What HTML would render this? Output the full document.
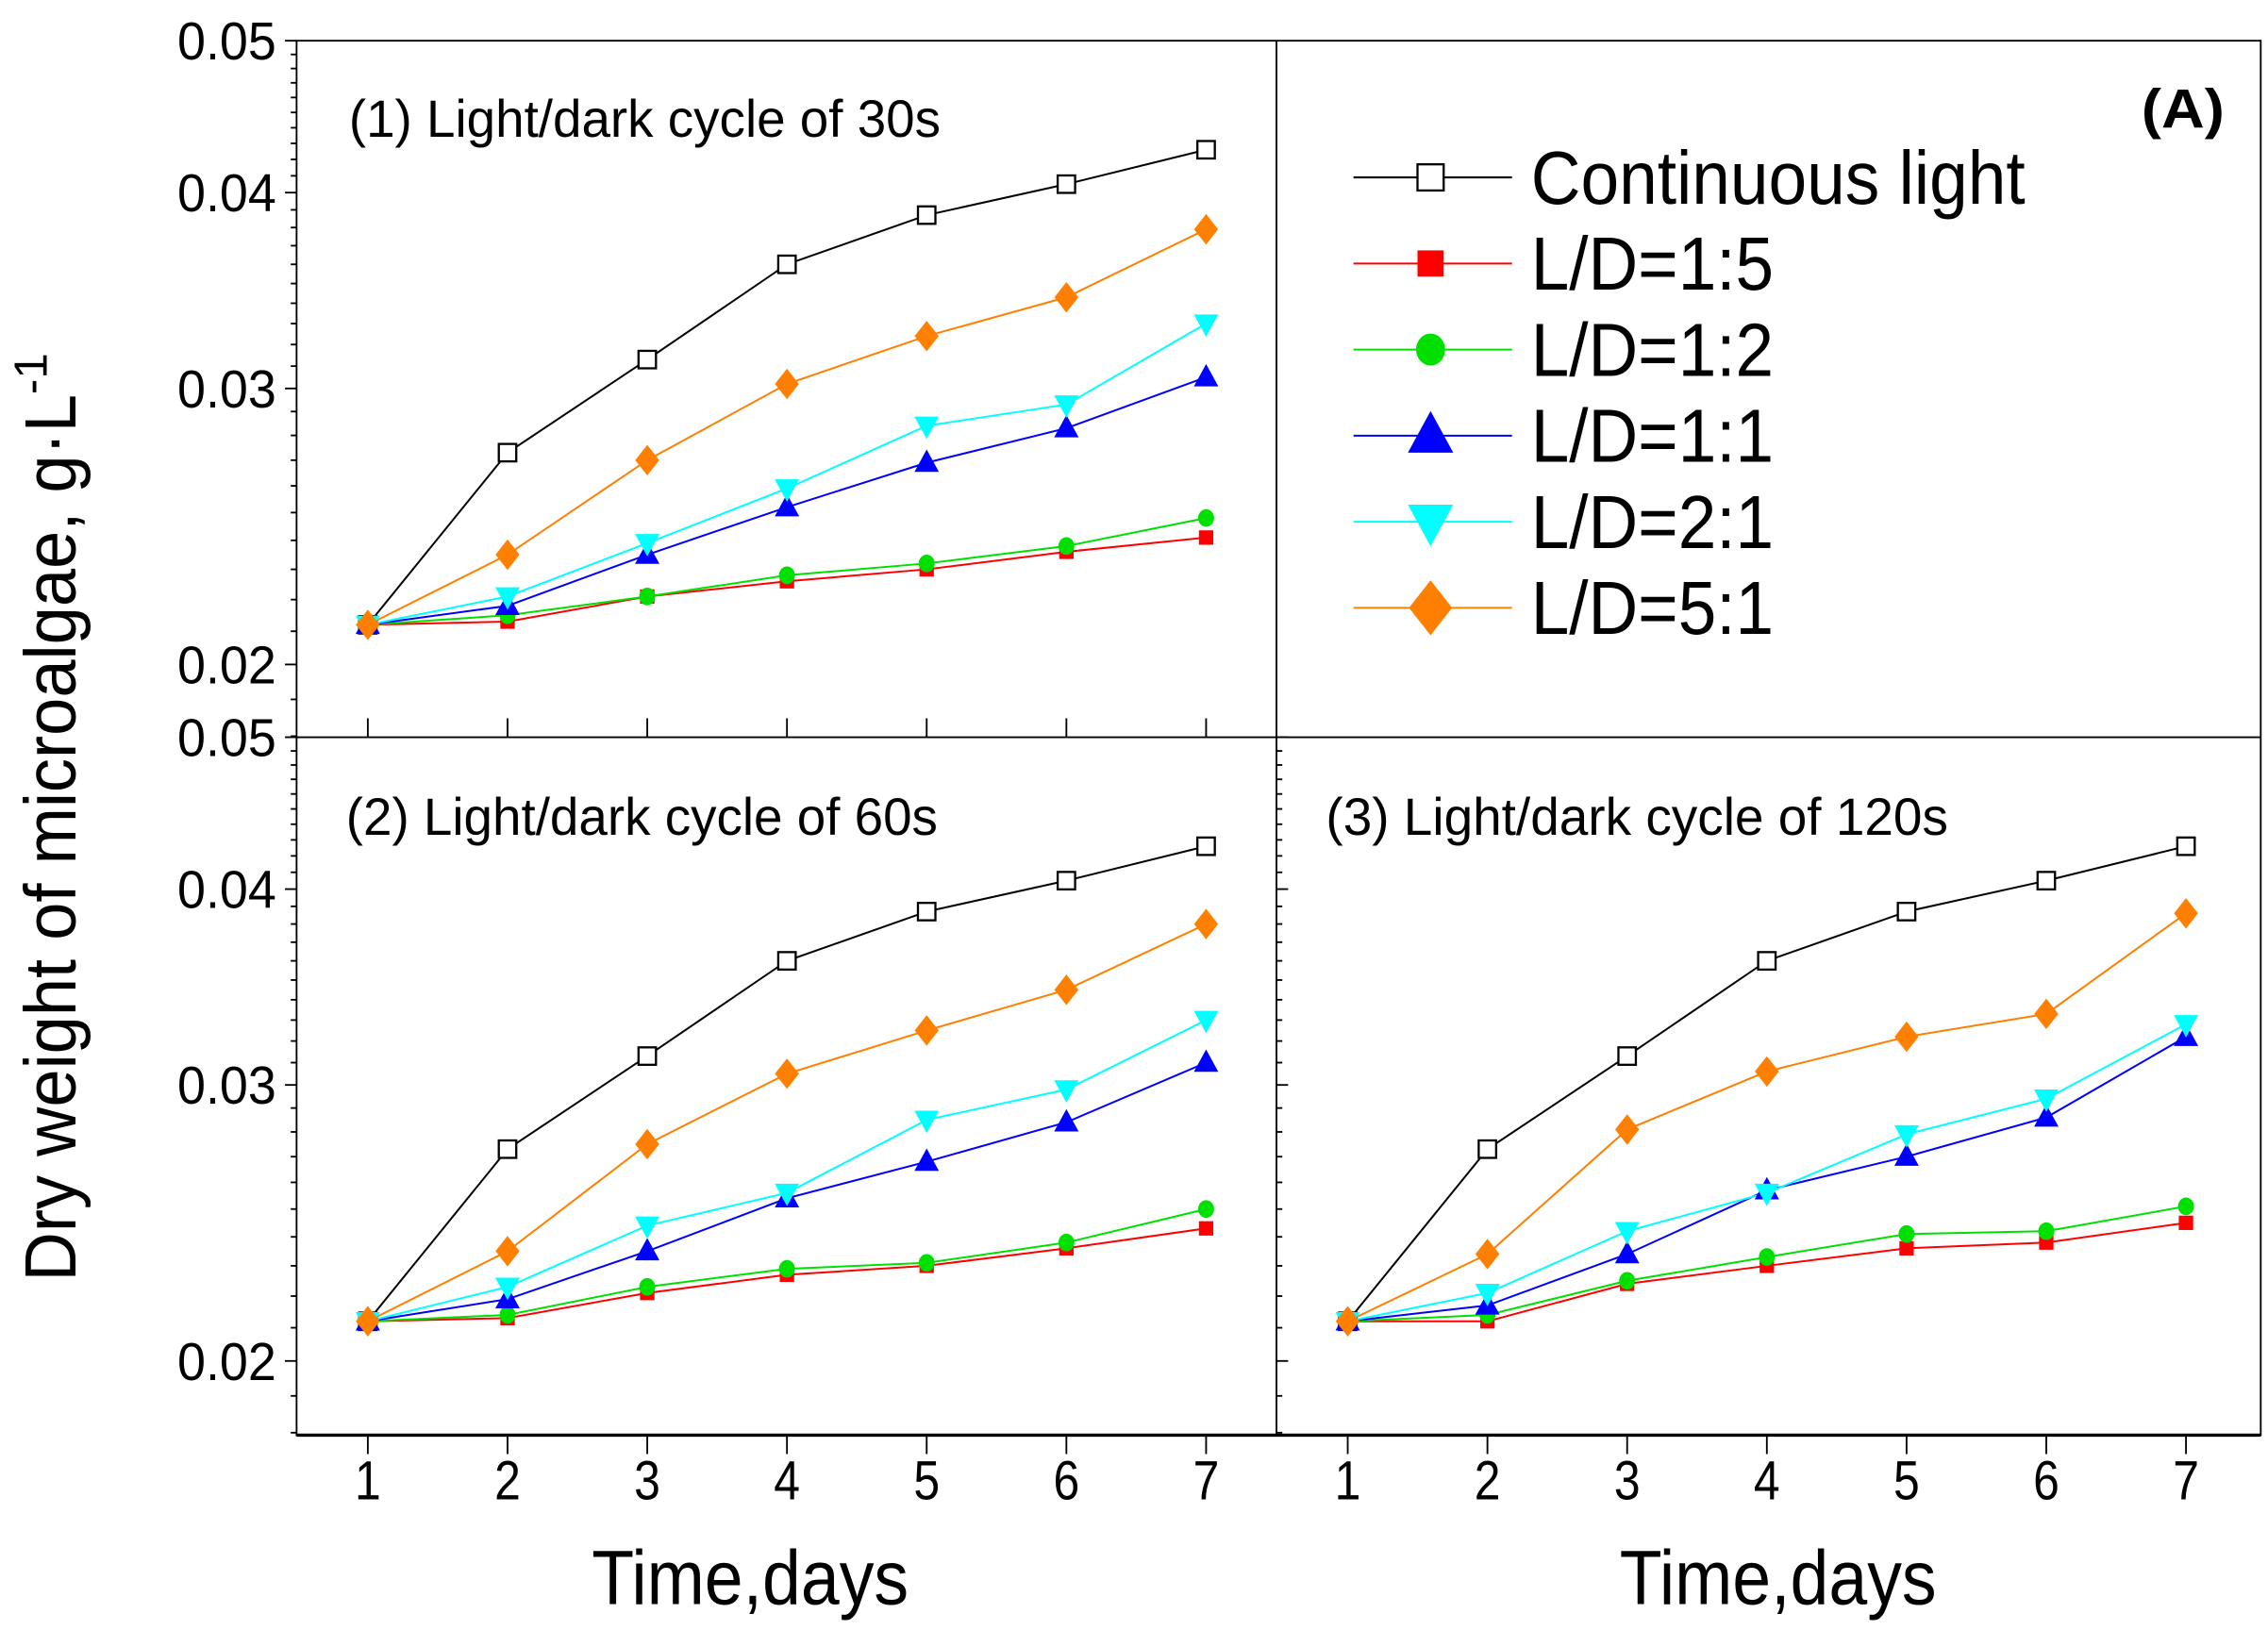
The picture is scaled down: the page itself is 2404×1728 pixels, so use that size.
<!DOCTYPE html>
<html><head><meta charset="utf-8"><style>
html,body{margin:0;padding:0;background:#fff;}
svg{display:block;}
text{font-family:"Liberation Sans Narrow","Liberation Sans",sans-serif;fill:#000;}
</style></head><body>
<svg id="chart" width="2404" height="1728" viewBox="0 0 1560 1121" preserveAspectRatio="none" xmlns="http://www.w3.org/2000/svg">
<g id="frame"></g>
<g id="marks"></g>
<g id="labels"></g>
</svg>
<script>
const days = [1,2,3,4,5,6,7];
const seriesNames = ["Continuous light","L/D=1:5","L/D=1:2","L/D=1:1","L/D=2:1","L/D=5:1"];
const yTickLabels = ["0.05","0.04","0.03","0.02"];
const yTickValues = [0.05,0.04,0.03,0.02];
const panelTitles = ["(1) Light/dark cycle of 30s","(2) Light/dark cycle of 60s","(3) Light/dark cycle of 120s"];
// panel 1 (30s)
const p1Continuous = [0.0212,0.0273,0.0313,0.0360,0.0387,0.0405,0.0426];
const p1LD15 = [0.0212,0.0213,0.0221,0.0226,0.0230,0.0236,0.0241];
const p1LD12 = [0.0212,0.0215,0.0221,0.0228,0.0232,0.0238,0.0248];
const p1LD11 = [0.0212,0.0218,0.0235,0.0252,0.0269,0.0283,0.0305];
const p1LD21 = [0.0212,0.0221,0.0239,0.0259,0.0284,0.0293,0.0330];
const p1LD51 = [0.0212,0.0235,0.0270,0.0302,0.0324,0.0343,0.0379];
// panel 2 (60s)
const p2Continuous = [0.0212,0.0273,0.0313,0.0360,0.0387,0.0405,0.0426];
const p2LD15 = [0.0212,0.0213,0.0221,0.0227,0.0230,0.0236,0.0243];
const p2LD12 = [0.0212,0.0214,0.0223,0.0229,0.0231,0.0238,0.0250];
const p2LD11 = [0.0212,0.0219,0.0235,0.0254,0.0268,0.0284,0.0310];
const p2LD21 = [0.0212,0.0223,0.0244,0.0256,0.0285,0.0298,0.0330];
const p2LD51 = [0.0212,0.0235,0.0275,0.0305,0.0325,0.0345,0.0380];
// panel 3 (120s)
const p3Continuous = [0.0212,0.0273,0.0313,0.0360,0.0387,0.0405,0.0426];
const p3LD15 = [0.0212,0.0212,0.0224,0.0230,0.0236,0.0238,0.0245];
const p3LD12 = [0.0212,0.0214,0.0225,0.0233,0.0241,0.0242,0.0251];
const p3LD11 = [0.0212,0.0217,0.0234,0.0257,0.0270,0.0286,0.0322];
const p3LD21 = [0.0212,0.0221,0.0242,0.0256,0.0279,0.0294,0.0328];
const p3LD51 = [0.0212,0.0234,0.0281,0.0306,0.0322,0.0333,0.0386];

const NS="http://www.w3.org/2000/svg";
const frame=document.getElementById('frame'), marks=document.getElementById('marks'), labels=document.getElementById('labels');
function mk(tag,attrs,parent){const e=document.createElementNS(NS,tag);for(const k in attrs)e.setAttribute(k,attrs[k]);parent.appendChild(e);return e;}
const colors=["#000","#ff0000","#00e000","#0000ff","#00ffff","#ff8000"];
const shapes=["osq","sq","ci","tu","td","di"];
const panels=[
 {x0:204,x1:878,top:28,bot:507,series:[p1Continuous,p1LD15,p1LD12,p1LD11,p1LD21,p1LD51],ticksSide:"left",xTickDir:-1,title:panelTitles[0],tx:240,ty:94,tw:407,xlabels:false},
 {x0:204,x1:878,top:507,bot:987,series:[p2Continuous,p2LD15,p2LD12,p2LD11,p2LD21,p2LD51],ticksSide:"left",xTickDir:1,title:panelTitles[1],tx:238,ty:574,tw:407,xlabels:true,tcx:516},
 {x0:878,x1:1555,top:507,bot:987,series:[p3Continuous,p3LD15,p3LD12,p3LD11,p3LD21,p3LD51],ticksSide:"right",xTickDir:1,title:panelTitles[2],tx:912,ty:574,tw:428,xlabels:true,tcx:1223}
];
const PXDEC=1078;
function yScale(p,v){return p.top+(Math.log10(0.05)-Math.log10(v))*PXDEC;}
function xScale(p,d){return p.x0+49+(d-1)*96.1;}
function marker(shape,x,y,col,s,parent){
 let e;
 if(shape==="osq") e=mk('rect',{x:x-s*0.5,y:y-s*0.5,width:s,height:s,fill:'#fff',stroke:'#000','stroke-width':1.5},parent);
 else if(shape==="sq") e=mk('rect',{x:x-s*0.45,y:y-s*0.45,width:s*0.9,height:s*0.9,fill:col},parent);
 else if(shape==="ci") e=mk('ellipse',{cx:x,cy:y,rx:s*0.5,ry:s*0.55,fill:col},parent);
 else if(shape==="tu") e=mk('polygon',{points:`${x},${y-s*0.65} ${x-s*0.6},${y+s*0.45} ${x+s*0.6},${y+s*0.45}`,fill:col},parent);
 else if(shape==="td") e=mk('polygon',{points:`${x},${y+s*0.65} ${x-s*0.6},${y-s*0.45} ${x+s*0.6},${y-s*0.45}`,fill:col},parent);
 else e=mk('polygon',{points:`${x},${y-s*0.7} ${x+s*0.55},${y} ${x},${y+s*0.7} ${x-s*0.55},${y}`,fill:col},parent);
 return e;
}
const outer=mk('rect',{x:204,y:28,width:1351,height:959,fill:'none',stroke:'#000','stroke-width':1.2},frame);


const bl=mk('line',{x1:204,y1:987,x2:1555,y2:987,stroke:'#000','stroke-width':2.2},frame);


const vd=mk('line',{x1:878,y1:28,x2:878,y2:987,stroke:'#000','stroke-width':1.2},frame);


const hd=mk('line',{x1:204,y1:507,x2:1555,y2:507,stroke:'#000','stroke-width':1.2},frame);



panels.forEach((p,pi)=>{
 for(let k=18;k<=50;k++){
  const v=k/1000, y=yScale(p,v); if(y>p.bot+0.5) continue;
  const major=(k%10===0), len=major?8:4;
  const dir=p.ticksSide==="left"?-1:1;
  const t=mk('line',{x1:p.x0,y1:y,x2:p.x0+dir*len,y2:y,stroke:'#000','stroke-width':1.2},frame);
  
  
 }
 if(p.ticksSide==="left"){
  yTickValues.forEach((v,i)=>{
   const tl=mk('text',{x:122,y:yScale(p,v)+13,'font-size':37,textLength:68,lengthAdjust:'spacingAndGlyphs'},labels);
   tl.textContent=yTickLabels[i];
   
   
  });
 }
 days.forEach(d=>{
  const x=xScale(p,d);
  const t=mk('line',{x1:x,y1:p.bot,x2:x,y2:p.bot+p.xTickDir*13,stroke:'#000','stroke-width':1.2},frame);
  
  
  if(p.xlabels){
   const tl=mk('text',{x:x,y:1031,'font-size':38,'text-anchor':'middle',textLength:18,lengthAdjust:'spacingAndGlyphs'},labels);
   tl.textContent=String(d);
   
   
  }
 });
 const tt=mk('text',{x:p.tx,y:p.ty,'font-size':36,textLength:p.tw,lengthAdjust:'spacingAndGlyphs'},labels);
 tt.textContent=p.title;
 
 
 p.series.forEach((vals,si)=>{
  const pts=vals.map((v,i)=>xScale(p,days[i])+','+yScale(p,v)).join(' ');
  const pl=mk('polyline',{points:pts,fill:'none',stroke:colors[si],'stroke-width':1.3},marks);
  
  
 });
 p.series.forEach((vals,si)=>{
  vals.forEach((v,i)=>{
   const sz=[12,11,11,14,14,15][si];
   const m=marker(shapes[si],xScale(p,days[i]),yScale(p,v),colors[si],sz,marks);
   
   
  });
 });
 if(p.xlabels){
  const xt=mk('text',{x:p.tcx-109,y:1103,'font-size':53,textLength:218,lengthAdjust:'spacingAndGlyphs'},labels);
  xt.textContent="Time,days";
  
  
 }
});
const legW=[340,167,167,167,167,167];
seriesNames.forEach((n,i)=>{
 const y=122+i*59.2;
 const g=mk('g',{},labels);
 
 
 mk('line',{x1:931,y1:y,x2:1040,y2:y,stroke:colors[i],'stroke-width':1.3},g);
 marker(shapes[i],984,y,colors[i],[18,20,20,26,26,27][i],g);
 const t=mk('text',{x:1053,y:y+18,'font-size':52,textLength:legW[i],lengthAdjust:'spacingAndGlyphs'},g);
 t.textContent=n;
});
const A=mk('text',{x:1473,y:88,'font-size':38,'font-weight':'bold',textLength:57,lengthAdjust:'spacingAndGlyphs'},labels);
A.textContent="(A)";


const yt=mk('text',{x:0,y:0,'font-size':50,'text-anchor':'middle',transform:'translate(52,562) rotate(-90)'},labels);
yt.innerHTML='<tspan textLength="610" lengthAdjust="spacingAndGlyphs">Dry weight of microalgae, g·L</tspan><tspan dy="-20" font-size="32">-1</tspan>';


</script>
</body></html>
